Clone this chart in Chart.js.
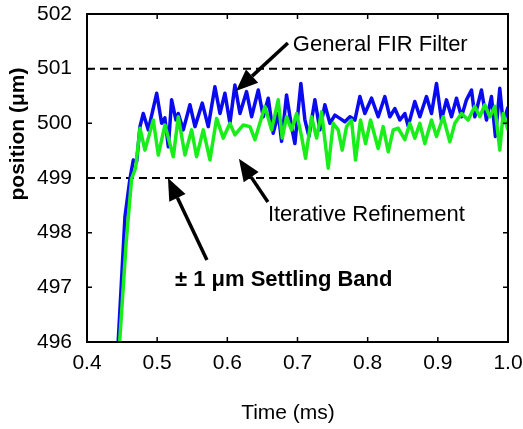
<!DOCTYPE html>
<html>
<head>
<meta charset="utf-8">
<script src="https://cdn.jsdelivr.net/npm/chart.js@4.4.1/dist/chart.umd.min.js"></script>
<style>
  html, body { margin: 0; padding: 0; background: #fff; }
  #chart { display: block; }
</style>
</head>
<body>
<canvas id="chart" width="523" height="429"></canvas>
<script>
// time (ms) and position (um)
const blueTime = [0.4440, 0.4541, 0.4613, 0.4660, 0.4708, 0.4755, 0.4802, 0.4874, 0.4993, 0.5064,
  0.5110, 0.5159, 0.5206, 0.5268, 0.5301, 0.5372, 0.5467, 0.5539, 0.5643, 0.5728,
  0.5823, 0.5895, 0.5966, 0.6037, 0.6108, 0.6180, 0.6274, 0.6346, 0.6441, 0.6512,
  0.6583, 0.6654, 0.6726, 0.6773, 0.6844, 0.6915, 0.6963, 0.7048, 0.7106, 0.7163,
  0.7248, 0.7319, 0.7390, 0.7462, 0.7533, 0.7604, 0.7675, 0.7747, 0.7818, 0.7889,
  0.7960, 0.8055, 0.8150, 0.8245, 0.8316, 0.8387, 0.8459, 0.8530, 0.8577, 0.8672,
  0.8744, 0.8838, 0.8910, 0.8981, 0.9052, 0.9123, 0.9195, 0.9266, 0.9337, 0.9408,
  0.9480, 0.9527, 0.9622, 0.9693, 0.9764, 0.9821, 0.9883, 0.9931, 1.0000];
const blueValues = [495.9, 498.29, 498.99, 499.33, 499.30, 499.94, 500.18, 499.88, 500.55, 500.00,
  500.10, 499.57, 500.43, 500.06, 500.18, 499.88, 500.34, 499.94, 500.37, 499.94,
  500.67, 500.18, 500.55, 500.00, 500.70, 500.18, 500.58, 500.12, 500.61, 500.12,
  500.46, 499.82, 500.18, 499.67, 500.52, 499.94, 499.63, 500.73, 500.06, 499.76,
  500.43, 499.88, 500.34, 500.00, 500.15, 500.09, 500.03, 500.12, 500.06, 500.49,
  500.18, 500.46, 500.12, 500.49, 500.12, 500.27, 500.06, 500.18, 499.95, 500.40,
  500.12, 500.49, 500.18, 500.73, 500.06, 500.43, 500.12, 500.46, 500.12, 500.43,
  500.61, 500.12, 500.61, 500.06, 500.49, 499.76, 500.64, 500.00, 500.30];

const greenTime = [0.4460, 0.4560, 0.4636, 0.4693, 0.4755, 0.4826, 0.4945, 0.5016, 0.5111, 0.5230,
  0.5301, 0.5396, 0.5491, 0.5562, 0.5657, 0.5752, 0.5847, 0.5942, 0.6037, 0.6108,
  0.6227, 0.6322, 0.6393, 0.6535, 0.6631, 0.6725, 0.6783, 0.6844, 0.6915, 0.6987,
  0.7058, 0.7115, 0.7200, 0.7272, 0.7343, 0.7438, 0.7509, 0.7580, 0.7637, 0.7699,
  0.7770, 0.7827, 0.7898, 0.7970, 0.8041, 0.8150, 0.8221, 0.8293, 0.8364, 0.8435,
  0.8530, 0.8601, 0.8672, 0.8744, 0.8815, 0.8910, 0.8981, 0.9076, 0.9171, 0.9242,
  0.9337, 0.9432, 0.9527, 0.9598, 0.9669, 0.9741, 0.9812, 0.9883, 0.9931, 1.0000];
const greenValues = [495.9, 497.85, 498.99, 499.18, 499.91, 499.51, 500.06, 499.42, 499.97, 499.39,
  500.12, 499.42, 499.88, 499.39, 499.88, 499.33, 500.09, 499.73, 500.00, 499.79,
  499.97, 499.94, 499.70, 500.31, 499.88, 500.43, 499.73, 500.12, 499.88, 500.18,
  499.76, 499.36, 500.12, 499.73, 500.21, 499.18, 500.00, 499.88, 499.51, 499.94,
  500.06, 499.33, 500.06, 499.63, 500.06, 499.54, 499.94, 499.48, 499.88, 499.91,
  499.70, 500.00, 499.73, 500.00, 499.63, 500.06, 499.76, 500.12, 499.66, 500.00,
  500.18, 500.06, 500.31, 500.12, 500.34, 500.12, 500.31, 499.51, 500.18, 499.88];

const bandLow = 499;
const bandHigh = 501;
const xTicks = [0.4, 0.5, 0.6, 0.7, 0.8, 0.9, 1.0];
const yTicks = [496, 497, 498, 499, 500, 501, 502];
const xTickLabels = ['0.4', '0.5', '0.6', '0.7', '0.8', '0.9', '1.0'];
const yTickLabels = ['496', '497', '498', '499', '500', '501', '502'];

// annotations: text at [t, pos], arrows from tail to tip in data units
const notes = [
  { text: 'General FIR Filter', at: [0.6934, 501.43], bold: false, tail: [0.6863, 501.47], tip: [0.6123, 500.59] },
  { text: 'Iterative Refinement', at: [0.6578, 498.32], bold: false, tail: [0.6578, 498.56], tip: [0.6165, 499.35] },
  { text: '\u00b1 1 \u03bcm Settling Band', at: [0.5254, 497.13], bold: true, tail: [0.5709, 497.50], tip: [0.5154, 499.0] }
];

const FONT = '"Liberation Sans", Arial, Helvetica, sans-serif';

function pairs(xs, ys) {
  return xs.map((x, i) => ({ x: x, y: ys[i] }));
}

const decor = {
  id: 'decor',
  afterDraw(chart) {
    const c = chart.ctx;
    const xs = chart.scales.x, ys = chart.scales.y;
    const a = chart.chartArea;
    c.save();
    c.strokeStyle = '#000';
    c.fillStyle = '#000';

    // box
    c.lineWidth = 2;
    c.strokeRect(a.left, a.top, a.right - a.left, a.bottom - a.top);

    // inward ticks
    c.lineWidth = 1.5;
    c.beginPath();
    xTicks.forEach(t => {
      const px = xs.getPixelForValue(t);
      c.moveTo(px, a.bottom); c.lineTo(px, a.bottom - 5);
      c.moveTo(px, a.top); c.lineTo(px, a.top + 5);
    });
    yTicks.forEach(v => {
      const py = ys.getPixelForValue(v);
      c.moveTo(a.left, py); c.lineTo(a.left + 5, py);
      c.moveTo(a.right, py); c.lineTo(a.right - 5, py);
    });
    c.stroke();

    // tick labels
    c.font = '21px ' + FONT;
    c.textBaseline = 'middle';
    c.textAlign = 'center';
    xTicks.forEach((t, i) => {
      c.fillText(xTickLabels[i], xs.getPixelForValue(t), a.bottom + 21);
    });
    c.textAlign = 'right';
    yTicks.forEach((v, i) => {
      c.fillText(yTickLabels[i], a.left - 15, ys.getPixelForValue(v));
    });

    // axis titles
    c.textAlign = 'center';
    c.fillText('Time (ms)', 288, 413);
    c.save();
    c.translate(18, 134);
    c.rotate(-Math.PI / 2);
    c.font = 'bold 21px ' + FONT;
    c.fillText('position (\u03bcm)', 0, 0);
    c.restore();

    // annotations
    notes.forEach(n => {
      c.font = (n.bold ? 'bold ' : '') + '22px ' + FONT;
      c.textAlign = 'left';
      c.fillText(n.text, xs.getPixelForValue(n.at[0]), ys.getPixelForValue(n.at[1]));

      const x0 = xs.getPixelForValue(n.tail[0]), y0 = ys.getPixelForValue(n.tail[1]);
      const x1 = xs.getPixelForValue(n.tip[0]), y1 = ys.getPixelForValue(n.tip[1]);
      const ang = Math.atan2(y1 - y0, x1 - x0);
      const headLen = 22, headW = 9;
      const bx = x1 - headLen * Math.cos(ang), by = y1 - headLen * Math.sin(ang);
      c.lineWidth = 3.5;
      c.beginPath();
      c.moveTo(x0, y0);
      c.lineTo(bx, by);
      c.stroke();
      c.beginPath();
      c.moveTo(x1, y1);
      c.lineTo(bx + headW * Math.sin(ang), by - headW * Math.cos(ang));
      c.lineTo(bx - headW * Math.sin(ang), by + headW * Math.cos(ang));
      c.closePath();
      c.fill();
    });
    c.restore();
  }
};

new Chart(document.getElementById('chart'), {
  type: 'line',
  data: {
    datasets: [
      {
        label: 'Iterative Refinement',
        data: pairs(greenTime, greenValues),
        borderColor: '#1aee1a',
        borderWidth: 3.5,
        order: 0
      },
      {
        label: 'General FIR Filter',
        data: pairs(blueTime, blueValues),
        borderColor: '#0a0af0',
        borderWidth: 3.5,
        order: 1
      },
      {
        label: 'band low',
        data: pairs([0.4, 1.0], [bandLow, bandLow]),
        borderColor: '#000',
        borderWidth: 2,
        borderDash: [8, 5],
        order: 2
      },
      {
        label: 'band high',
        data: pairs([0.4, 1.0], [bandHigh, bandHigh]),
        borderColor: '#000',
        borderWidth: 2,
        borderDash: [8, 5],
        order: 2
      }
    ]
  },
  options: {
    responsive: false,
    animation: false,
    events: [],
    layout: { padding: { left: 87, right: 15, top: 14, bottom: 87 } },
    elements: { point: { radius: 0 }, line: { tension: 0, fill: false, borderJoinStyle: 'round' } },
    plugins: { legend: { display: false }, tooltip: { enabled: false } },
    scales: {
      x: { type: 'linear', display: false, min: 0.4, max: 1.0 },
      y: { type: 'linear', display: false, min: 496, max: 502 }
    }
  },
  plugins: [decor]
});
</script>
</body>
</html>
